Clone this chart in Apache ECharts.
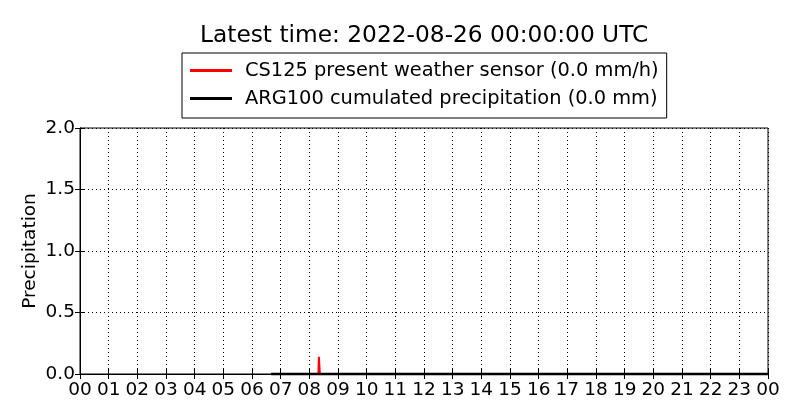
<!DOCTYPE html>
<html>
<head>
<meta charset="UTF-8">
<title>precipitation</title>
<script src="https://cdn.jsdelivr.net/npm/echarts@6/dist/echarts.min.js"></script>
<style>
  html, body { margin: 0; padding: 0; background: #fff; }
  #chart { width: 800px; height: 420px; }
</style>
</head>
<body>
<div id="chart"></div>
<script type="text/javascript">
    // data
    var titleText = 'Latest time: 2022-08-26 00:00:00 UTC';
    var csName = 'CS125 present weather sensor (0.0 mm/h)';
    var argName = 'ARG100 cumulated precipitation (0.0 mm)';
    var csTimes = ['06:40', '08:19', '08:20', '08:21', '08:22', '24:00'];
    var csValues = [0, 0, 0.14, 0.14, 0, 0];
    var argTimes = ['06:40', '24:00'];
    var argValues = [0, 0];
    var yTicks = [0, 0.5, 1.0, 1.5, 2.0];

    function toHours(t) {
        var p = t.split(':');
        return parseInt(p[0], 10) + parseInt(p[1], 10) / 60;
    }
    function pairs(times, values) {
        var out = [];
        for (var i = 0; i < times.length; i++) {
            out.push([toHours(times[i]), values[i]]);
        }
        return out;
    }

    var font = 'DejaVu Sans';
    var fs = 18.5;
    var dotted = { color: '#000', width: 1, type: [1, 3] };

    var myChart = echarts.init(document.getElementById('chart'));
    var option = {
        animation: false,
        backgroundColor: '#fff',
        textStyle: { fontFamily: font },
        title: {
            text: titleText,
            left: 200,
            top: 24,
            padding: 0,
            textStyle: { fontFamily: font, fontSize: 23.3, fontWeight: 'normal', color: '#000' }
        },
        legend: {
            orient: 'vertical',
            left: 182,
            top: 53,
            padding: [8, 8, 10, 8],
            itemGap: 9,
            itemWidth: 42,
            itemHeight: 3,
            icon: 'rect',
            backgroundColor: '#fff',
            borderColor: '#000',
            borderWidth: 1,
            textStyle: { fontFamily: font, fontSize: 19.4, color: '#000', padding: [0, 0, 0, 8] },
            data: [csName, argName]
        },
        grid: { left: 80, right: 32, top: 128, bottom: 46, show: true, borderColor: '#000', borderWidth: 1 },
        xAxis: [{
            type: 'value',
            min: 0,
            max: 24,
            interval: 1,
            axisLine: { show: true, lineStyle: { color: '#000', width: 1 } },
            axisTick: { inside: true, length: 5, lineStyle: { color: '#000' } },
            axisLabel: {
                fontFamily: font, fontSize: fs, color: '#000', margin: 7,
                formatter: function (v) {
                    var h = Math.round(v) % 24;
                    return (h < 10 ? '0' : '') + h;
                }
            },
            splitLine: { show: true, lineStyle: dotted }
        }, {
            type: 'value',
            position: 'top',
            min: 0,
            max: 24,
            interval: 1,
            axisLine: { show: true, lineStyle: { color: '#000', width: 1 } },
            axisTick: { inside: true, length: 5, lineStyle: { color: '#000' } },
            axisLabel: { show: false },
            splitLine: { show: false }
        }],
        yAxis: [{
            type: 'value',
            min: yTicks[0],
            max: yTicks[yTicks.length - 1],
            interval: 0.5,
            name: 'Precipitation',
            nameLocation: 'middle',
            nameGap: 40,
            nameMoveOverlap: false,
            nameTextStyle: { fontFamily: font, fontSize: fs, color: '#000' },
            axisLine: { show: true, lineStyle: { color: '#000', width: 1 } },
            axisTick: { inside: true, length: 5, lineStyle: { color: '#000' } },
            axisLabel: {
                fontFamily: font, fontSize: fs, color: '#000', margin: 5,
                formatter: function (v) { return v.toFixed(1); }
            },
            splitLine: { show: true, lineStyle: dotted }
        }, {
            type: 'value',
            position: 'right',
            min: yTicks[0],
            max: yTicks[yTicks.length - 1],
            interval: 0.5,
            axisLine: { show: true, lineStyle: { color: '#000', width: 1 } },
            axisTick: { inside: true, length: 5, lineStyle: { color: '#000' } },
            axisLabel: { show: false },
            splitLine: { show: false }
        }],
        series: [
            {
                name: csName,
                type: 'line',
                data: pairs(csTimes, csValues),
                showSymbol: false,
                symbol: 'none',
                clip: false,
                color: '#ff0000',
                lineStyle: { color: '#ff0000', width: 2 }
            },
            {
                name: argName,
                type: 'line',
                data: pairs(argTimes, argValues),
                showSymbol: false,
                symbol: 'none',
                clip: false,
                color: '#000000',
                lineStyle: { color: '#000000', width: 2.5 }
            }
        ]
    };
    myChart.setOption(option);
</script>
</body>
</html>
